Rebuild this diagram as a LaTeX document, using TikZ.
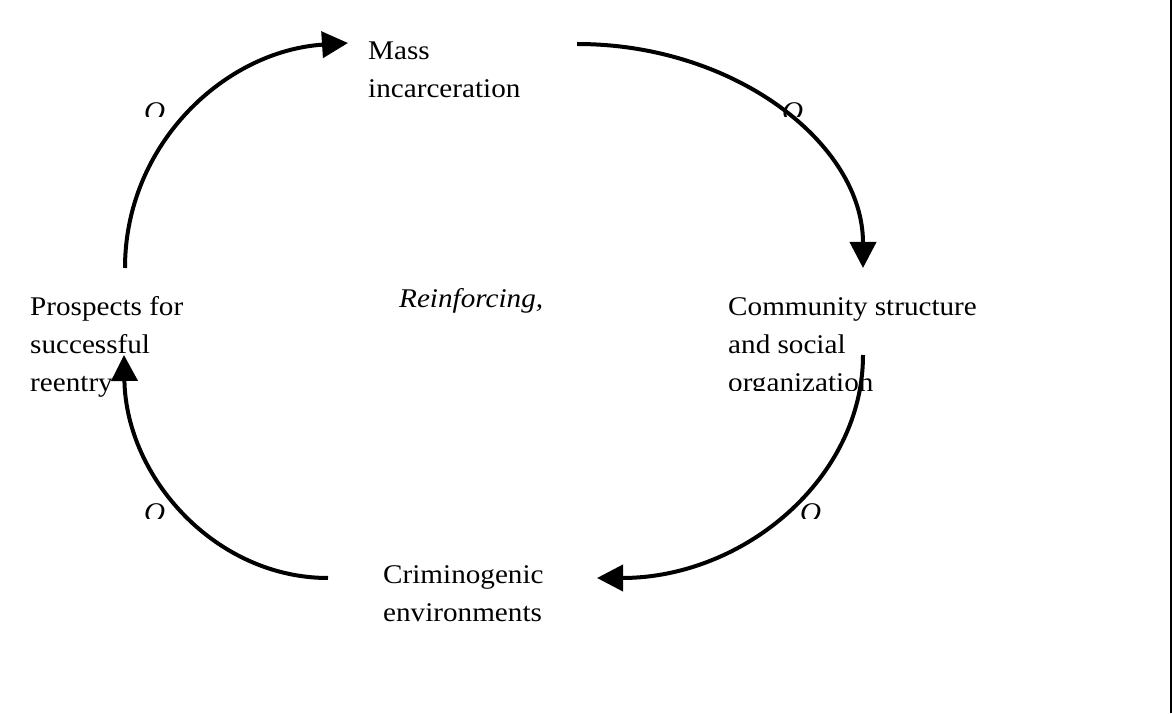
\documentclass[tikz,border=0pt]{standalone}
\usepackage{fontspec}
\setmainfont{Liberation Serif}
\usepackage{tikz}
\usetikzlibrary{arrows.meta,calc}

\begin{document}
\begin{tikzpicture}[x=1pt, y=1pt,
  factor/.style={anchor=base west, inner sep=0pt, align=left,
    font=\fontsize{27}{38}\selectfont, xscale=1.08, transform shape},
  polarity/.style={factor, font=\fontsize{27}{38}\selectfont\itshape},
  link/.style={line width=4pt, -{Triangle[length=26pt, width=26pt]}}]
  \useasboundingbox (0,0) rectangle (1172,713);

  % Factors of the loop (base = last line)
  \node[factor] (mass) at (368,615) {Mass\\incarceration};
  \node[factor] (prospects) at (30,321) {Prospects for\\successful\\reentry};
  \node[factor] (crime) at (383,92) {Criminogenic\\environments};
  \begin{scope}
    \clip (700,323) rectangle (1000,450);
    \node[factor] (community) at (728,321) {Community structure\\and social\\organization};
  \end{scope}
  \node[polarity] (loop) at (399,405) {Reinforcing,};

  % Link ends
  \coordinate (mass-out) at (577,669);
  \coordinate (comm-in) at (863,445);
  \coordinate (comm-out) at (863,358);
  \coordinate (crime-in) at (597,135);
  \coordinate (crime-out) at (328,135);
  \coordinate (pros-in) at (124,358);
  \coordinate (pros-out) at (125,445);
  \coordinate (mass-in) at (348,670);

  % Links
  \draw[link] (mass-out) .. controls (735,669) and (863,569) .. (comm-in);
  \draw[link] (comm-out) .. controls (863,235) and (744,135) .. (crime-in);
  \draw[link] (crime-out) .. controls (216,135) and (126,235) .. (pros-in);
  \draw[link] (pros-out) .. controls (125,569) and (225,662) .. (mass-in);

  % Link signs
  \begin{scope}
    \clip (0,596) rectangle (1172,713);
    \node[polarity] (s1) at (144,592) {O};
    \node[polarity] (s2) at (782,592) {O};
  \end{scope}
  \begin{scope}
    \clip (0,195) rectangle (1172,300);
    \node[polarity] (s3) at (144,192) {O};
    \node[polarity] (s4) at (800,192) {O};
  \end{scope}

  % Frame edge
  \draw[line width=2.5pt] (1170.75,0) -- (1170.75,713);
\end{tikzpicture}
\end{document}
